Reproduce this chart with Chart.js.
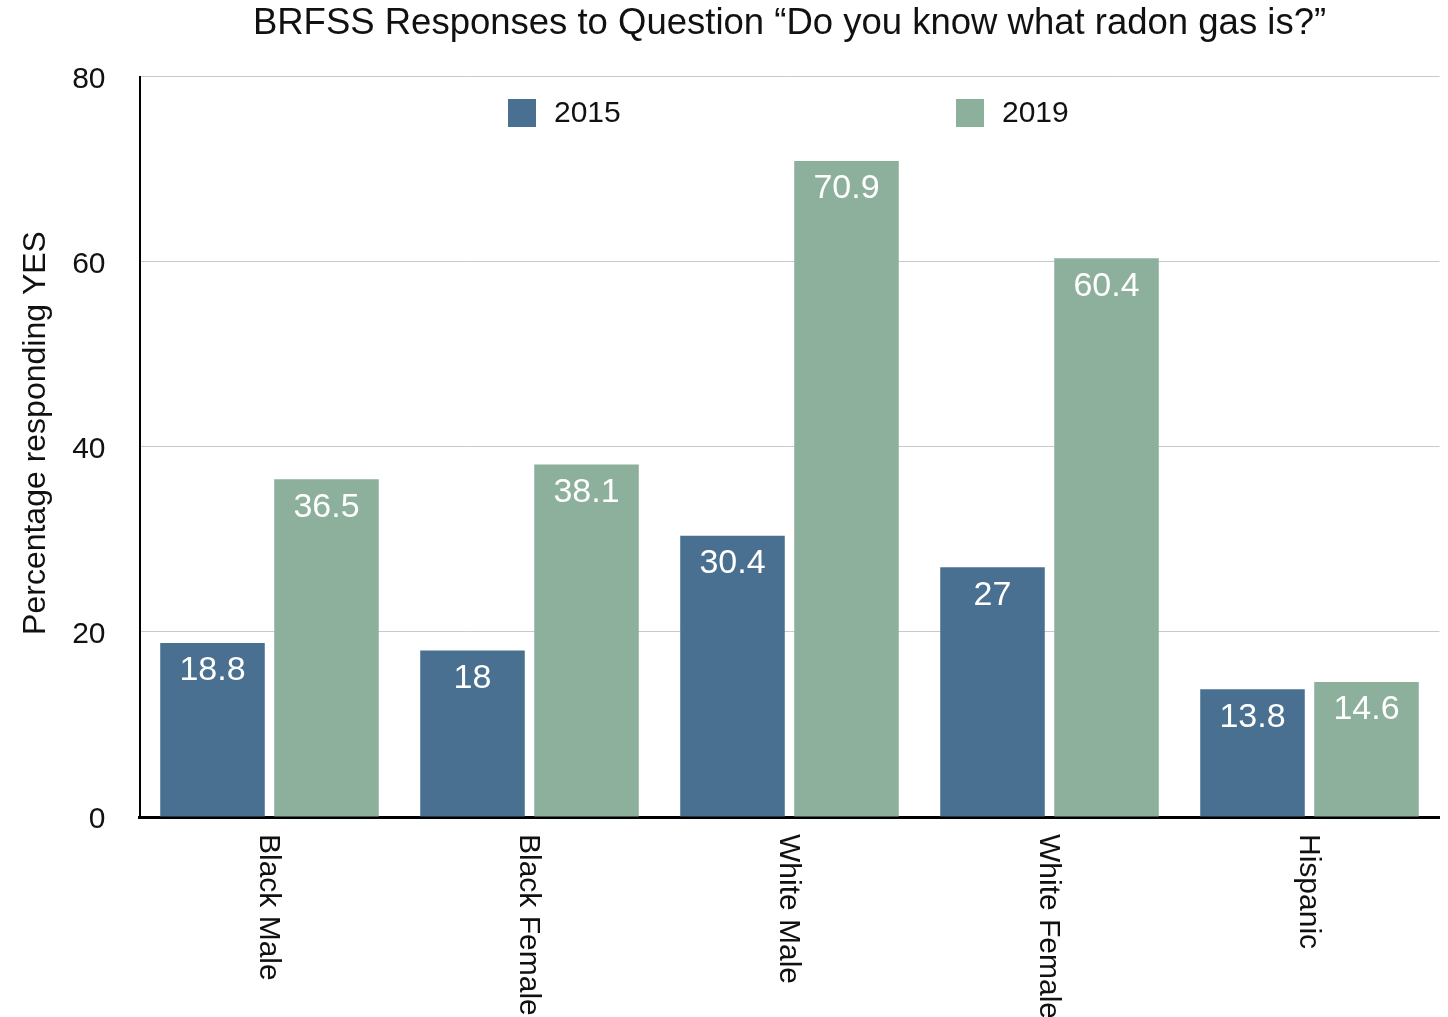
<!DOCTYPE html>
<html>
<head>
<meta charset="utf-8">
<script src="https://cdn.jsdelivr.net/npm/chart.js@4/dist/chart.umd.min.js"></script>
<style>
  html, body { margin: 0; padding: 0; background: #fff; }
  canvas { display: block; }
</style>
</head>
<body>
<canvas id="c" width="1448" height="1017"></canvas>
<script>
const categories = ["Black Male", "Black Female", "White Male", "White Female", "Hispanic"];
const series2015 = [18.8, 18, 30.4, 27, 13.8];
const series2019 = [36.5, 38.1, 70.9, 60.4, 14.6];
const seriesNames = ["2015", "2019"];
const yTicks = [0, 20, 40, 60, 80];
const titleText = "BRFSS Responses to Question \u201cDo you know what radon gas is?\u201d";
const yTitleText = "Percentage responding YES";

const COLORS = ["#4a7091", "#8cb09b"];
const FONT = "'Liberation Sans', Arial, Helvetica, sans-serif";

const customDraw = {
  id: "customDraw",
  afterDatasetsDraw(chart) {
    const ctx = chart.ctx;
    ctx.save();
    ctx.fillStyle = "#ffffff";
    ctx.font = "34px " + FONT;
    ctx.textAlign = "center";
    ctx.textBaseline = "middle";
    chart.data.datasets.forEach((ds, di) => {
      const meta = chart.getDatasetMeta(di);
      meta.data.forEach((bar, i) => {
        ctx.fillText(String(ds.data[i]), bar.x, bar.y + 28);
      });
    });
    ctx.restore();
  },
  afterDraw(chart) {
    const ctx = chart.ctx;
    const area = chart.chartArea;
    const xs = chart.scales.x;
    // rotated category labels (clockwise)
    ctx.save();
    ctx.fillStyle = "#111";
    ctx.font = "30px " + FONT;
    ctx.textAlign = "left";
    ctx.textBaseline = "middle";
    categories.forEach((c, i) => {
      const x = xs.getPixelForValue(i);
      ctx.save();
      ctx.translate(x - 1, area.bottom + 17);
      ctx.rotate(Math.PI / 2);
      ctx.fillText(c, 0, 0);
      ctx.restore();
    });
    ctx.restore();
    // y axis title
    ctx.save();
    ctx.fillStyle = "#111";
    ctx.font = "32px " + FONT;
    ctx.textAlign = "center";
    ctx.textBaseline = "middle";
    ctx.translate(36, 433);
    ctx.rotate(-Math.PI / 2);
    ctx.fillText(yTitleText, 0, 0);
    ctx.restore();
    // legend inside plot
    ctx.save();
    ctx.font = "30px " + FONT;
    ctx.textBaseline = "middle";
    ctx.textAlign = "left";
    const legendX = [508, 956];
    const legendY = 113;
    seriesNames.forEach((n, i) => {
      ctx.fillStyle = COLORS[i];
      ctx.fillRect(legendX[i], legendY - 14, 28, 28);
      ctx.fillStyle = "#111";
      ctx.fillText(n, legendX[i] + 46, legendY + 1);
    });
    ctx.restore();
  }
};

new Chart(document.getElementById("c"), {
  type: "bar",
  data: {
    labels: categories,
    datasets: [
      { label: seriesNames[0], data: series2015, backgroundColor: COLORS[0] },
      { label: seriesNames[1], data: series2019, backgroundColor: COLORS[1] }
    ]
  },
  options: {
    responsive: false,
    devicePixelRatio: 1,
    animation: false,
    layout: { padding: { left: 0, right: 8.5, top: 0, bottom: 0 } },
    categoryPercentage: 0.877,
    barPercentage: 0.917,
    plugins: {
      legend: { display: false },
      tooltip: { enabled: false },
      title: {
        display: true,
        fullSize: false,
        text: titleText,
        color: "#111",
        font: { family: FONT, size: 36.5, weight: "normal" },
        padding: { top: 2, bottom: 31 }
      }
    },
    scales: {
      x: {
        grid: { display: false },
        border: { color: "#000", width: 3 },
        ticks: { display: false },
        afterFit(scale) { scale.height = 200; }
      },
      y: {
        min: 0,
        max: 80,
        afterBuildTicks(scale) { scale.ticks = yTicks.map(v => ({ value: v })); },
        grid: {
          drawTicks: false,
          color: (ctx) => ctx.tick && ctx.tick.value === 0 ? "rgba(0,0,0,0)" : "#c9c9c9",
          lineWidth: 1
        },
        border: { color: "#000", width: 2 },
        ticks: {
          color: "#111",
          padding: 34,
          labelOffset: 3,
          font: { family: FONT, size: 30 }
        },
        afterFit(scale) { scale.width = 139.5; }
      }
    }
  },
  plugins: [customDraw]
});
</script>
</body>
</html>
